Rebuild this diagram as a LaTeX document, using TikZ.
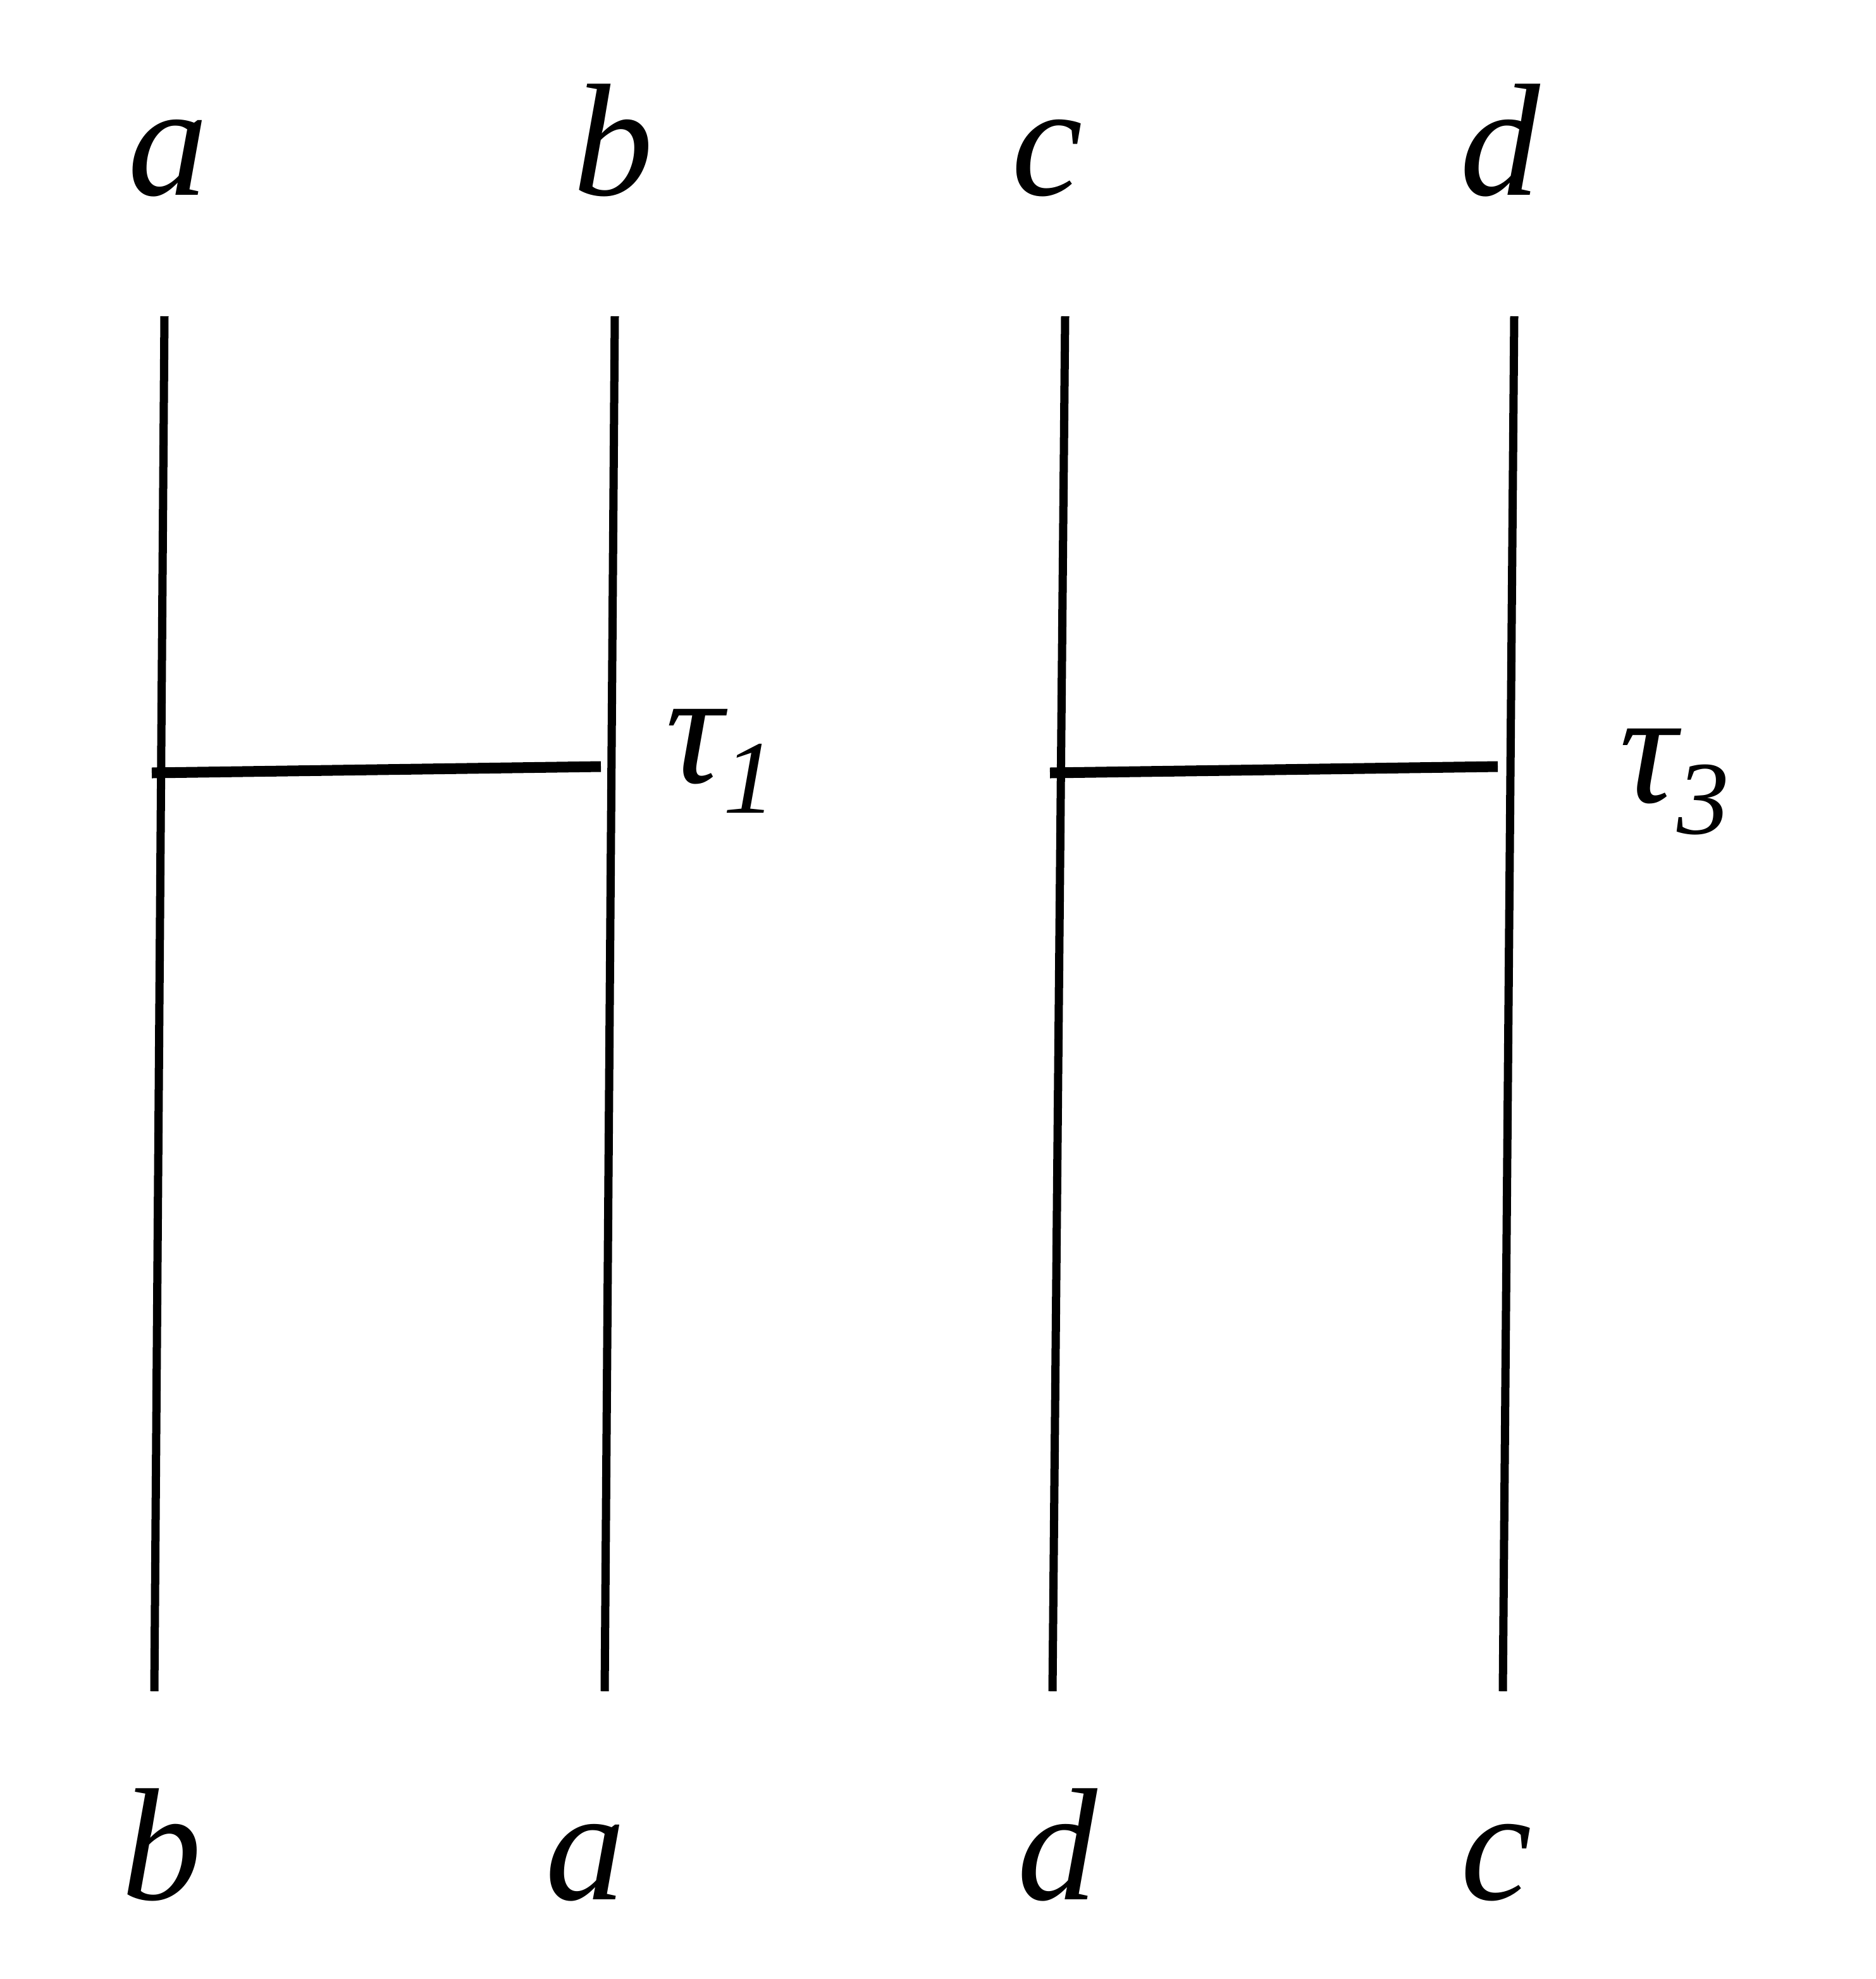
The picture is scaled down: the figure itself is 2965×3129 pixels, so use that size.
\documentclass[tikz,border=0pt]{standalone}
\usepackage{fontspec}
\setmainfont{LiberationSerif}[Extension=.ttf,UprightFont=*-Regular,ItalicFont=*-Italic]
\begin{document}
\begin{tikzpicture}[x=0.01cm,y=-0.01cm,
	strand/.style={line width=0.13cm},
	rung/.style={line width=0.17cm},
	lbl/.style={anchor=base,inner sep=0pt,font=\fontsize{72}{80}\selectfont\itshape},
	tau/.style={anchor=base west,inner sep=0pt,font=\fontsize{72}{80}\selectfont\itshape}]

	\useasboundingbox (0,0) rectangle (2965,3129);

	\coordinate (t1) at (260,500);
	\coordinate (t2) at (972,500);
	\coordinate (t3) at (1684,500);
	\coordinate (t4) at (2394,500);
	\coordinate (b1) at (244,2674);
	\coordinate (b2) at (956,2674);
	\coordinate (b3) at (1664,2674);
	\coordinate (b4) at (2376,2674);

	\draw[strand] (t1) -- (b1);
	\draw[strand] (t2) -- (b2);
	\draw[strand] (t3) -- (b3);
	\draw[strand] (t4) -- (b4);

	\coordinate (r1w) at (240,1222);
	\coordinate (r1e) at (950,1212);
	\coordinate (r3w) at (1660,1222);
	\coordinate (r3e) at (2368,1212);
	\draw[rung] (r1w) -- (r1e);
	\draw[rung] (r3w) -- (r3e);

	\node (ta) at (266,308) [lbl] {a};
	\node (tb) at (970,308) [lbl] {b};
	\node (tc) at (1656,308) [lbl] {c};
	\node (td) at (2372,308) [lbl] {d};
	\node (bb) at (256,3003) [lbl] {b};
	\node (ba) at (926,3003) [lbl] {a};
	\node (bd) at (1672,3003) [lbl] {d};
	\node (bc) at (2366,3003) [lbl] {c};

	\node (tau1) at (1052,1237) [tau] {τ\raisebox{-0.48cm}{\fontsize{47}{50}\selectfont 1}};
	\node (tau3) at (2560,1268) [tau] {τ\raisebox{-0.50cm}{\fontsize{47}{50}\selectfont 3}};
\end{tikzpicture}
\end{document}
